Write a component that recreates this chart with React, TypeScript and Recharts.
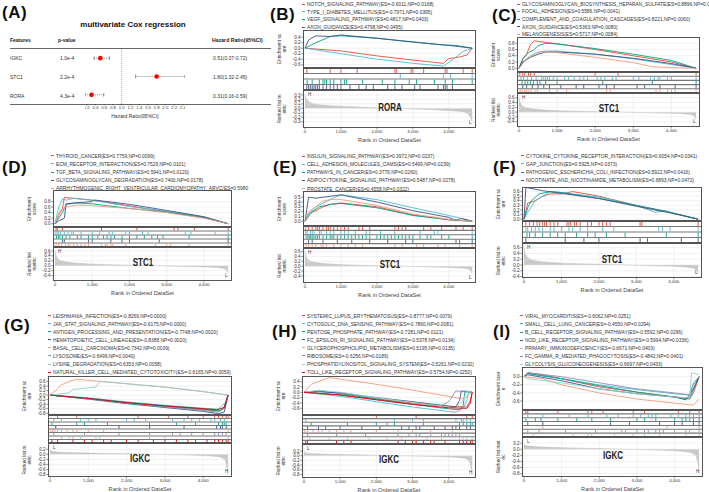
import React from 'react';
import {
  LineChart,
  Line,
  XAxis,
  YAxis,
  CartesianGrid,
  ScatterChart,
  Scatter,
  AreaChart,
  Area,
  ReferenceLine,
} from 'recharts';

const FONT = '"Liberation Sans", Arial, Helvetica, sans-serif';
const NPG = ['#E64B35', '#4DBBD5', '#00A087', '#3C5488', '#F39B7F', '#8491B4', '#91D1C2', '#DC0000'];

// ---------- (A) multivariate Cox ----------
const coxFeatures = ['IGKC', 'STC1', 'RORA'];
const coxP = ['1.0e-4', '2.2e-4', '4.3e-4'];
const coxHR = [0.51, 1.8, 0.31];
const coxLow = [0.37, 1.32, 0.16];
const coxHigh = [0.72, 2.45, 0.59];
const coxTicks = [0.2, 0.4, 0.6, 0.8, 1.0, 1.2, 1.4, 1.6, 1.8, 2.0, 2.2, 2.4];

// ---------- ranked list metrics (rank, value) ----------
const roraMetric = [[0, 0.3], [50, 0.2], [150, 0.13], [400, 0.08], [1000, 0.045], [2000, 0.015], [3000, -0.015], [4000, -0.05], [4400, -0.08], [4550, -0.14], [4650, -0.3]];
const stc1Metric = [[0, 0.62], [30, 0.4], [100, 0.25], [300, 0.15], [700, 0.09], [1500, 0.04], [2500, 0.01], [3500, -0.03], [4200, -0.06], [4500, -0.1], [4600, -0.17], [4650, -0.3]];
const igkcMetric = [[0, 0.16], [50, 0.12], [300, 0.08], [1000, 0.05], [2000, 0.02], [3000, -0.01], [4000, -0.05], [4400, -0.1], [4550, -0.2], [4620, -0.5], [4650, -0.8]];

// ---------- (B) RORA ----------
const bNames = [
  'NOTCH_SIGNALING_PATHWAY(ES=-0.6011,NP=0.0168)',
  'TYPE_I_DIABETES_MELLITUS(ES=-0.7971,NP=0.0395)',
  'VEGF_SIGNALING_PATHWAY(ES=0.4817,NP=0.0403)',
  'AXON_GUIDANCE(ES=0.4798,NP=0.0495)',
];
const bCurves = [
  [[0, 0], [1000, -0.1], [2000, -0.28], [3000, -0.43], [3850, -0.55], [4000, -0.38], [4300, -0.32], [4500, -0.25], [4650, 0]],
  [[0, 0], [1000, -0.2], [2000, -0.4], [3000, -0.55], [3850, -0.65], [4100, -0.42], [4400, -0.12], [4650, 0]],
  [[0, 0], [150, 0.1], [300, 0.2], [600, 0.36], [700, 0.43], [1000, 0.45], [2000, 0.36], [3000, 0.23], [3800, 0.12], [4200, 0.1], [4650, 0]],
  [[0, 0], [100, 0.3], [300, 0.45], [700, 0.42], [1000, 0.48], [2000, 0.36], [3000, 0.22], [4000, 0.1], [4650, 0]],
];
const bHits = [
  [50, 700, 1000, 1450, 2500, 2550, 2950, 3000, 3300, 3900, 3950, 4400, 4650],
  [2650, 3850, 4050, 4650],
  [60, 200, 400, 500, 550, 600, 700, 800, 1000, 1100, 1150, 1600, 2150, 2500, 2900, 3100, 3600, 3900, 4100, 4650],
  [50, 100, 150, 200, 250, 300, 350, 400, 500, 600, 700, 800, 900, 1000, 1250, 1500, 1700, 1900, 2300, 2500, 2700, 3050, 3200, 3700, 3850, 3900, 3950, 4100],
];

// ---------- (C) STC1 ----------
const cNames = [
  'GLYCOSAMINOGLYCAN_BIOSYNTHESIS_HEPARAN_SULFATE(ES=0.8896,NP=0.0020)',
  'FOCAL_ADHESION(ES=0.5586,NP=0.0041)',
  'COMPLEMENT_AND_COAGULATION_CASCADES(ES=0.8221,NP=0.0060)',
  'AXON_GUIDANCE(ES=0.5363,NP=0.0080)',
  'MELANOGENESIS(ES=0.5717,NP=0.0084)',
];
const cCurves = [
  [[0, 0], [100, 0.3], [200, 0.45], [300, 0.75], [400, 0.88], [500, 0.86], [1000, 0.78], [2000, 0.6], [3000, 0.4], [4000, 0.2], [4650, 0]],
  [[0, 0], [150, 0.25], [300, 0.4], [500, 0.52], [700, 0.55], [1000, 0.55], [2000, 0.45], [3000, 0.3], [4000, 0.12], [4650, 0]],
  [[0, 0], [100, 0.3], [250, 0.5], [400, 0.6], [500, 0.72], [700, 0.8], [1000, 0.78], [2000, 0.63], [3000, 0.45], [4000, 0.25], [4650, 0]],
  [[0, 0], [100, 0.2], [300, 0.35], [500, 0.45], [700, 0.52], [1000, 0.52], [2000, 0.45], [3000, 0.32], [4000, 0.15], [4650, 0]],
  [[0, 0], [200, 0.3], [400, 0.45], [600, 0.54], [1000, 0.5], [2000, 0.35], [3000, 0.18], [3500, 0.05], [4000, 0.02], [4650, 0]],
];
const cHits = [
  [20, 100, 150, 250, 300, 400, 2000, 2600, 4650],
  [50, 120, 220, 330, 450, 600, 650, 700, 750, 800, 900, 1000, 1200, 1300, 1450, 1600, 1700, 1800, 2050, 2150, 2250, 2450, 2550, 3000, 3150, 3450, 3550, 3650, 3700, 3900, 4000, 4650],
  [80, 160, 230, 300, 380, 480, 550, 700, 1000, 2200, 3500, 4650],
  [100, 200, 350, 500, 650, 800, 1100, 1500, 1700, 2100, 2300, 2500, 3100, 3300, 3700, 4100, 4650],
  [30, 80, 150, 200, 260, 320, 420, 480, 800, 1000, 1250, 2300, 2400, 3600, 3700, 3900, 4000, 4100, 4650],
];

// ---------- (D) STC1 ----------
const dNames = [
  'THYROID_CANCER(ES=0.7759,NP=0.0099)',
  'ECM_RECEPTOR_INTERACTION(ES=0.7529,NP=0.0101)',
  'TGF_BETA_SIGNALING_PATHWAY(ES=0.5941,NP=0.0120)',
  'GLYCOSAMINOGLYCAN_DEGRADATION(ES=0.7400,NP=0.0178)',
  'ARRHYTHMOGENIC_RIGHT_VENTRICULAR_CARDIOMYOPATHY_ARVC(ES=0.5980',
];
const dCurves = [
  [[0, 0], [100, 0.3], [200, 0.55], [250, 0.95], [500, 0.92], [1000, 0.85], [2000, 0.65], [3000, 0.42], [4000, 0.22], [4650, 0]],
  [[0, 0], [80, 0.5], [150, 0.75], [200, 0.9], [300, 0.85], [500, 0.92], [1000, 0.85], [2000, 0.62], [3000, 0.45], [4000, 0.25], [4650, 0]],
  [[0, 0], [100, 0.2], [200, 0.4], [250, 0.55], [300, 0.7], [600, 0.75], [1000, 0.72], [2000, 0.55], [3000, 0.42], [4000, 0.22], [4650, 0]],
  [[0, 0], [100, 0.1], [250, 0.2], [300, 0.72], [500, 0.75], [1000, 0.8], [1050, 0.86], [2000, 0.7], [3000, 0.48], [4000, 0.25], [4650, 0]],
  [[0, 0], [80, 0.3], [150, 0.5], [300, 0.6], [600, 0.68], [1000, 0.65], [2000, 0.55], [3000, 0.4], [4000, 0.2], [4650, 0]],
];
const dHits = [
  [30, 60, 200, 1250, 2200, 3200, 3300, 3750, 4650],
  [20, 60, 100, 150, 250, 350, 450, 500, 700, 1000, 1200, 1450, 1550, 1900, 2000, 2350, 2500, 3500, 3650, 4300, 4650],
  [40, 90, 130, 200, 300, 400, 600, 700, 900, 1000, 1150, 1300, 1400, 1500, 1600, 1800, 2000, 2200, 2400, 2600, 2750, 2900, 3600, 4650],
  [200, 250, 900, 1000, 1500, 1800, 2000, 2800, 4650],
  [30, 100, 180, 280, 350, 400, 500, 600, 700, 800, 900, 1250, 1350, 1400, 1500, 1550, 1900, 2700, 3000, 3100, 3600, 4650],
];

// ---------- (E) STC1 ----------
const eNames = [
  'INSULIN_SIGNALING_PATHWAY(ES=0.3972,NP=0.0237)',
  'CELL_ADHESION_MOLECULES_CAMS(ES=0.5499,NP=0.0239)',
  'PATHWAYS_IN_CANCER(ES=0.3779,NP=0.0260)',
  'ADIPOCYTOKINE_SIGNALING_PATHWAY(ES=0.5487,NP=0.0278)',
  'PROSTATE_CANCER(ES=0.4558,NP=0.0322)',
];
const eCurves = [
  [[0, 0], [100, 0.15], [300, 0.22], [500, 0.3], [700, 0.35], [1000, 0.38], [2000, 0.3], [3000, 0.13], [4000, 0.03], [4650, 0]],
  [[0, 0], [100, 0.15], [300, 0.3], [700, 0.45], [1000, 0.55], [2000, 0.45], [3000, 0.28], [4000, 0.12], [4650, 0]],
  [[0, 0], [100, 0.1], [200, 0.2], [400, 0.3], [700, 0.35], [1000, 0.37], [2000, 0.28], [3000, 0.12], [4000, 0.03], [4650, 0]],
  [[0, 0], [100, 0.5], [300, 0.48], [500, 0.5], [1000, 0.55], [2000, 0.4], [3000, 0.22], [4000, 0.08], [4200, 0.02], [4350, 0.06], [4650, 0]],
  [[0, 0], [100, 0.2], [300, 0.3], [500, 0.42], [700, 0.45], [1000, 0.45], [2000, 0.33], [3000, 0.15], [4000, 0.04], [4650, 0]],
];
const eHits = [
  [20, 100, 200, 300, 350, 400, 500, 600, 650, 700, 800, 900, 1000, 1100, 1200, 1500, 1600, 1800, 2500, 2600, 2700, 2800, 3300, 3500, 3800, 4200, 4400, 4650],
  [20, 60, 150, 200, 250, 400, 450, 600, 700, 800, 1000, 1100, 1200, 1400, 1700, 1800, 2100, 2500, 3200, 3600, 3700, 4650],
  [30, 80, 120, 160, 200, 250, 300, 350, 400, 500, 600, 700, 750, 800, 900, 1000, 1100, 1200, 1300, 1400, 1500, 1600, 1700, 1800, 2000, 2100, 2200, 2300, 2400, 2500, 2600, 2700, 2800, 2900, 3000, 3200, 3400, 3500, 3800, 4000, 4650],
  [100, 200, 500, 900, 1300, 1800, 2300, 2800, 3000, 4200, 4300, 4650],
  [30, 100, 200, 300, 450, 500, 600, 800, 1000, 1200, 1400, 1600, 2500, 2700, 3100, 3300, 3700, 3900, 4300, 4650],
];

// ---------- (F) STC1 ----------
const fNames = [
  'CYTOKINE_CYTOKINE_RECEPTOR_INTERACTION(ES=0.6054,NP=0.0341)',
  'GAP_JUNCTION(ES=0.5925,NP=0.0373)',
  'PATHOGENIC_ESCHERICHIA_COLI_INFECTION(ES=0.5922,NP=0.0416)',
  'NICOTINATE_AND_NICOTINAMIDE_METABOLISM(ES=0.6893,NP=0.0472)',
];
const fCurves = [
  [[0, 0], [100, 0.35], [300, 0.4], [500, 0.5], [700, 0.55], [1000, 0.55], [1300, 0.6], [2000, 0.5], [3000, 0.3], [4000, 0.13], [4650, 0]],
  [[0, 0], [100, 0.15], [300, 0.4], [500, 0.5], [700, 0.6], [1000, 0.58], [2000, 0.48], [3000, 0.3], [3500, 0.15], [3800, 0.18], [4000, 0.12], [4650, 0]],
  [[0, 0], [100, 0.25], [200, 0.4], [400, 0.55], [700, 0.6], [1000, 0.58], [2000, 0.45], [3000, 0.3], [3800, 0.17], [4650, 0]],
  [[0, 0], [50, 0.69], [500, 0.62], [1000, 0.56], [2000, 0.45], [3000, 0.28], [4000, 0.12], [4650, 0]],
];
const fHits = [
  [50, 150, 250, 350, 420, 500, 550, 600, 700, 800, 900, 1150, 1200, 1250, 1350, 1400, 1500, 1700, 1800, 2000, 2100, 2200, 2300, 3100, 3150, 4650],
  [50, 100, 200, 300, 400, 500, 700, 800, 1000, 1200, 1300, 1500, 1700, 2100, 2400, 3600, 3700, 3900, 4650],
  [80, 150, 300, 500, 700, 900, 1100, 1400, 1700, 1900, 2200, 2700, 3800, 4650],
  [50, 1100, 1600, 2000, 3100, 3300, 4200, 4650],
];

// ---------- (G) IGKC ----------
const gNames = [
  'LEISHMANIA_INFECTION(ES=-0.8269,NP=0.0000)',
  'JAK_STAT_SIGNALING_PATHWAY(ES=-0.6175,NP=0.0000)',
  'ANTIGEN_PROCESSING_AND_PRESENTATION(ES=-0.7748,NP=0.0020)',
  'HEMATOPOIETIC_CELL_LINEAGE(ES=-0.8388,NP=0.0020)',
  'BASAL_CELL_CARCINOMA(ES=0.7342,NP=0.0039)',
  'LYSOSOME(ES=-0.6499,NP=0.0040)',
  'LYSINE_DEGRADATION(ES=0.6353,NP=0.0058)',
  'NATURAL_KILLER_CELL_MEDIATED_CYTOTOXICITY(ES=-0.6165,NP=0.0059)',
];
const gCurves = [
  [[0, 0], [1000, -0.15], [2000, -0.35], [3000, -0.5], [4000, -0.65], [4400, -0.7], [4550, -0.6], [4650, 0]],
  [[0, 0], [1000, -0.12], [2000, -0.3], [3000, -0.45], [4000, -0.58], [4400, -0.62], [4500, -0.45], [4600, -0.3], [4650, 0]],
  [[0, 0], [1000, -0.15], [2000, -0.33], [3000, -0.48], [4000, -0.62], [4450, -0.7], [4550, -0.5], [4650, 0]],
  [[0, 0], [1000, -0.18], [2000, -0.38], [3000, -0.55], [4000, -0.72], [4400, -0.82], [4550, -0.75], [4650, 0]],
  [[0, 0], [150, 0.2], [300, 0.45], [500, 0.6], [700, 0.7], [1000, 0.65], [2000, 0.5], [3000, 0.35], [4000, 0.15], [4650, 0]],
  [[0, 0], [1000, -0.17], [2000, -0.35], [3000, -0.52], [4000, -0.68], [4400, -0.75], [4550, -0.55], [4650, 0]],
  [[0, 0], [500, 0.1], [600, 0.25], [800, 0.28], [1200, 0.35], [1300, 0.6], [2000, 0.5], [3000, 0.35], [4000, 0.15], [4650, 0]],
  [[0, 0], [1000, -0.15], [2000, -0.33], [3000, -0.48], [4000, -0.6], [4350, -0.65], [4550, -0.55], [4650, 0]],
];
const gHits = [
  [200, 700, 2300, 3100, 3600, 4000, 4300, 4400, 4500, 4600, 4650],
  [100, 300, 800, 1000, 1200, 2000, 2200, 2500, 3200, 3500, 3700, 3900, 4200, 4300, 4450, 4550],
  [50, 700, 900, 1500, 2600, 3300, 3800, 4400, 4500, 4550, 4600],
  [150, 1800, 2600, 3500, 4350, 4450, 4500, 4600],
  [20, 70, 130, 200, 300, 450, 600, 700, 1000, 1400, 4650],
  [100, 900, 1800, 2600, 3200, 3400, 3700, 4000, 4300, 4400, 4500, 4600],
  [300, 500, 600, 800, 1200, 1300, 2600, 3000, 4650],
  [50, 200, 600, 900, 1100, 1400, 1600, 2000, 2300, 2700, 3000, 3300, 3600, 3800, 4100, 4300, 4400, 4500, 4600, 4650],
];

// ---------- (H) IGKC ----------
const hNames = [
  'SYSTEMIC_LUPUS_ERYTHEMATOSUS(ES=-0.8777,NP=0.0079)',
  'CYTOSOLIC_DNA_SENSING_PATHWAY(ES=-0.7860,NP=0.0081)',
  'PENTOSE_PHOSPHATE_PATHWAY(ES=-0.7281,NP=0.0121)',
  'FC_EPSILON_RI_SIGNALING_PATHWAY(ES=-0.5378,NP=0.0134)',
  'GLYCEROPHOSPHOLIPID_METABOLISM(ES=0.5195,NP=0.0135)',
  'RIBOSOME(ES=-0.6256,NP=0.0189)',
  'PHOSPHATIDYLINOSITOL_SIGNALING_SYSTEM(ES=-0.5261,NP=0.0232)',
  'TOLL_LIKE_RECEPTOR_SIGNALING_PATHWAY(ES=-0.5754,NP=0.0250)',
];
const hCurves = [
  [[0, 0], [1000, -0.1], [2000, -0.25], [3000, -0.4], [4000, -0.52], [4500, -0.55], [4600, -0.3], [4650, 0]],
  [[0, 0], [1000, -0.15], [2000, -0.35], [3000, -0.55], [4000, -0.72], [4200, -0.75], [4400, -0.6], [4500, -0.3], [4550, 0.05], [4650, 0]],
  [[0, 0], [400, 0.05], [1000, -0.05], [2000, -0.25], [3000, -0.45], [4000, -0.62], [4300, -0.65], [4400, -0.5], [4450, 0.05], [4650, 0]],
  [[0, 0], [400, 0.02], [1000, -0.02], [2000, -0.2], [3000, -0.35], [4000, -0.52], [4200, -0.55], [4300, -0.3], [4350, 0.05], [4650, 0]],
  [[0, 0], [200, 0.3], [700, 0.55], [2000, 0.3], [3000, 0.08], [4000, -0.15], [4400, -0.25], [4650, 0]],
  [[0, 0], [1000, -0.1], [2000, -0.28], [3000, -0.45], [3800, -0.5], [4000, -0.35], [4200, 0.05], [4650, 0]],
  [[0, 0], [400, 0.08], [1000, 0.0], [2000, -0.2], [3000, -0.38], [4000, -0.55], [4200, -0.58], [4400, -0.3], [4500, 0.05], [4650, 0]],
  [[0, 0], [1000, -0.1], [2000, -0.28], [3000, -0.45], [4000, -0.58], [4500, -0.6], [4600, -0.4], [4650, 0]],
];
const hHits = [
  [2000, 3100, 4500, 4650],
  [50, 2500, 3000, 3300, 4200, 4350, 4400, 4500, 4600],
  [200, 1200, 2000, 2300, 2500, 3300, 4300, 4400, 4500, 4600, 4650],
  [100, 400, 600, 1000, 1600, 2100, 2700, 2900, 3100, 3200, 3600, 3900, 4100, 4200, 4300, 4500, 4600],
  [20, 100, 250, 400, 500, 700, 900, 1100, 1300, 2000, 2600, 3000, 3500, 4100],
  [100, 900, 1700, 2600, 2900, 3100, 3200, 3500, 3800, 3900, 4000, 4100, 4200, 4300],
  [150, 700, 1200, 1800, 2300, 2700, 3400, 3800, 4300, 4400, 4500, 4650],
  [50, 100, 900, 1100, 1300, 2600, 2800, 3000, 3100, 3300, 3500, 3600, 3900, 4300, 4400, 4500, 4600, 4650],
];

// ---------- (I) IGKC ----------
const iNames = [
  'VIRAL_MYOCARDITIS(ES=-0.6062,NP=0.0251)',
  'SMALL_CELL_LUNG_CANCER(ES=-0.4550,NP=0.0294)',
  'B_CELL_RECEPTOR_SIGNALING_PATHWAY(ES=-0.5592,NP=0.0296)',
  'NOD_LIKE_RECEPTOR_SIGNALING_PATHWAY(ES=-0.5994,NP=0.0336)',
  'PRIMARY_IMMUNODEFICIENCY(ES=-0.6671,NP=0.0403)',
  'FC_GAMMA_R_MEDIATED_PHAGOCYTOSIS(ES=-0.4842,NP=0.0401)',
  'GLYCOLYSIS_GLUCONEOGENESIS(ES=-0.6697,NP=0.0433)',
];
const iCurves = [
  [[0, 0], [100, 0.1], [500, 0.05], [1000, -0.05], [2000, -0.25], [3000, -0.38], [4000, -0.5], [4400, -0.55], [4500, -0.4], [4650, 0]],
  [[0, 0], [100, 0.08], [1000, -0.05], [2000, -0.2], [3000, -0.32], [4000, -0.42], [4400, -0.45], [4500, -0.2], [4650, 0]],
  [[0, 0], [100, 0.08], [1000, -0.05], [2000, -0.22], [3000, -0.38], [4000, -0.5], [4400, -0.53], [4550, -0.2], [4650, 0]],
  [[0, 0], [100, 0.05], [1000, -0.1], [2000, -0.3], [3000, -0.42], [4000, -0.5], [4300, -0.57], [4500, -0.3], [4650, 0]],
  [[0, 0], [500, -0.05], [1000, -0.2], [2000, -0.4], [3000, -0.55], [4000, -0.65], [4500, -0.7], [4650, -0.55]],
  [[0, 0], [100, 0.1], [1000, 0.0], [2000, -0.15], [3000, -0.3], [4000, -0.4], [4400, -0.45], [4500, -0.15], [4650, 0]],
  [[0, 0], [100, -0.05], [1000, -0.15], [2000, -0.3], [3000, -0.42], [4000, -0.5], [4400, -0.52], [4450, 0.1], [4650, 0.05]],
];
const iHits = [
  [50, 100, 900, 1700, 1800, 2100, 2900, 3200, 4100, 4400, 4650],
  [100, 500, 1200, 1700, 2200, 2500, 2900, 3100, 3300, 3400, 3500, 3900, 4100, 4300, 4400, 4500, 4650],
  [50, 300, 450, 900, 1400, 1800, 2300, 3000, 3200, 3500, 4000, 4200, 4300, 4400, 4500, 4650],
  [100, 500, 2300, 2800, 3600, 4000, 4200, 4500, 4650],
  [500, 3800, 4650],
  [100, 400, 1100, 1900, 2600, 2700, 3000, 3200, 3300, 3500, 3600, 3700, 4000, 4300, 4400, 4650],
  [250, 1300, 1700, 1800, 2400, 2900, 3200, 3600, 4300, 4650],
];

// ---------- axis ticks ----------
const rankTicks = [0, 1000, 2000, 3000, 4000];
const tB = [-0.6, -0.4, -0.2, 0, 0.2, 0.4];
const tPos8 = [0, 0.2, 0.4, 0.6, 0.8];
const tPos5 = [0, 0.1, 0.2, 0.3, 0.4, 0.5];
const tPos6 = [0, 0.1, 0.2, 0.3, 0.4, 0.5, 0.6];
const tG = [-0.8, -0.6, -0.4, -0.2, 0, 0.2, 0.4, 0.6];
const tH = [-0.6, -0.4, -0.2, 0, 0.2, 0.4];
const tI = [-0.6, -0.4, -0.2, 0];
const rkRora = [-0.3, -0.2, -0.1, 0, 0.1, 0.2, 0.3];
const rkStc1 = [-0.4, -0.2, 0, 0.2, 0.4, 0.6];
const rkIgkc = [-0.8, -0.6, -0.4, -0.2, 0, 0.2];

type Layout = {
  tag: string; tagX: number; tagY: number;
  legX: number; legY: number; legStep: number;
  x0: number; x1: number; esTop: number; esBot: number; hitBot: number; rankBot: number;
  esDomain: [number, number]; esTicks: number[]; rkDomain: [number, number]; rkTicks: number[];
  esTitle: string[]; rkTitle: string[];
};

const layB: Layout = { tag: '(B)', tagX: 270, tagY: 15, legX: 302, legY: 4, legStep: 7.7, x0: 303, x1: 476, esTop: 30, esBot: 68, hitBot: 90, rankBot: 128, esDomain: [-0.72, 0.66], esTicks: tB, rkDomain: [-0.44, 0.41], rkTicks: rkRora, esTitle: ['Enrichment sc', 'ore'], rkTitle: ['Ranked list m', 'etric'] };
const layC: Layout = { tag: '(C)', tagX: 492, tagY: 16, legX: 517, legY: 4, legStep: 7.6, x0: 517, x1: 700, esTop: 37, esBot: 72, hitBot: 93, rankBot: 127, esDomain: [-0.12, 1.0], esTicks: tPos8, rkDomain: [-0.62, 0.8], rkTicks: rkStc1, esTitle: ['Enrichment', 'score'], rkTitle: ['Ranked list', 'metric'] };
const layD: Layout = { tag: '(D)', tagX: 2, tagY: 168, legX: 51, legY: 155.7, legStep: 8.2, x0: 53, x1: 232, esTop: 190, esBot: 227, hitBot: 247, rankBot: 281, esDomain: [-0.12, 1.22], esTicks: tPos8, rkDomain: [-0.62, 0.76], rkTicks: rkStc1, esTitle: ['Enrichment', 'score'], rkTitle: ['Ranked list', 'metric'] };
const layE: Layout = { tag: '(E)', tagX: 273, tagY: 168, legX: 302, legY: 156, legStep: 8.2, x0: 303, x1: 476, esTop: 191, esBot: 226, hitBot: 248, rankBot: 283, esDomain: [-0.1, 0.63], esTicks: tPos5, rkDomain: [-0.69, 0.75], rkTicks: rkStc1, esTitle: ['Enrichment', 'score'], rkTitle: ['Ranked list', 'metric'] };
const layF: Layout = { tag: '(F)', tagX: 493, tagY: 168, legX: 521, legY: 155.7, legStep: 8.2, x0: 522, x1: 702, esTop: 187, esBot: 221, hitBot: 243, rankBot: 278, esDomain: [-0.04, 0.7], esTicks: tPos6, rkDomain: [-0.45, 0.76], rkTicks: rkStc1, esTitle: ['Enrichment sc', 'ore'], rkTitle: ['Ranked list m', 'etric'] };
const layG: Layout = { tag: '(G)', tagX: 4, tagY: 326, legX: 48, legY: 315.7, legStep: 8.05, x0: 48, x1: 232, esTop: 376, esBot: 415, hitBot: 443, rankBot: 477, esDomain: [-0.88, 0.84], esTicks: tG, rkDomain: [-0.9, 0.45], rkTicks: rkIgkc, esTitle: ['Enrichment sc', 'ore'], rkTitle: ['Ranked list m', 'etric'] };
const layH: Layout = { tag: '(H)', tagX: 272, tagY: 332, legX: 302, legY: 315.7, legStep: 8.05, x0: 302, x1: 476, esTop: 376, esBot: 415, hitBot: 444, rankBot: 478, esDomain: [-0.85, 0.61], esTicks: tH, rkDomain: [-0.95, 0.5], rkTicks: rkIgkc, esTitle: ['Enrichment sc', 'ore'], rkTitle: ['Ranked list m', 'etric'] };
const layI: Layout = { tag: '(I)', tagX: 493, tagY: 332, legX: 520, legY: 315.7, legStep: 8.15, x0: 522, x1: 703, esTop: 367, esBot: 410, hitBot: 437, rankBot: 477, esDomain: [-0.82, 0.24], esTicks: tI, rkDomain: [-0.91, 0.4], rkTicks: rkIgkc, esTitle: ['Enrichment scor', 'e'], rkTitle: ['Ranked list met', 'ric'] };

const X_DOMAIN: [number, number] = [0, 4700];
const YW = 14;

const Txt = ({ x, y, size, bold, children, center, sx = 1, color = '#222', ls = 0 }: any) => (
  <div
    style={{
      position: 'absolute',
      left: x,
      top: y - size * 0.6,
      fontSize: size,
      lineHeight: `${size * 1.2}px`,
      fontWeight: bold ? 700 : 400,
      whiteSpace: 'nowrap',
      letterSpacing: ls,
      color,
      transform: `${center ? 'translateX(-50%) ' : ''}scaleX(${sx})`,
      transformOrigin: center ? 'center center' : 'left center',
    }}
  >
    {children}
  </div>
);

const VTitle = ({ cx, cy, lines }: { cx: number; cy: number; lines: string[] }) => (
  <div
    style={{
      position: 'absolute',
      left: cx - 30,
      top: cy - 6,
      width: 60,
      height: 12,
      fontSize: 4.8,
      lineHeight: '5.4px',
      textAlign: 'center',
      color: '#333',
      transform: 'rotate(-90deg)',
    }}
  >
    {lines.map((l, i) => (
      <div key={i}>{l}</div>
    ))}
  </div>
);

const boxStyle = (left: number, top: number, w: number, h: number): React.CSSProperties => ({
  position: 'absolute',
  left,
  top,
  width: w,
  height: h,
  border: '0.8px solid #555',
  boxSizing: 'border-box',
  pointerEvents: 'none',
});

const fmt1 = (v: number) => v.toFixed(1);

// y tick: grid line from the scale, with its label and tick mark left of the plot
const YLab = ({ viewBox, tickValue }: any) =>
  viewBox ? (
    <g>
      <line x1={viewBox.x - 1.8} x2={viewBox.x} y1={viewBox.y} y2={viewBox.y} stroke="#333" strokeWidth={0.5} />
      <text x={viewBox.x - 2.4} y={viewBox.y} dy={1.6} textAnchor="end" fontSize={4.6} fill="#333" fontFamily={FONT}>
        {fmt1(tickValue)}
      </text>
    </g>
  ) : null;

const yTicks = (ticks: number[]) =>
  ticks.map((t) => (
    <ReferenceLine key={`yt${t}`} y={t} stroke="#e4e4e4" strokeWidth={0.5} label={<YLab tickValue={t} />} />
  ));

function Gsea({ L, names, curves, hits, metric, gene, negative }: any) {
  const w = L.x1 - L.x0;
  const esH = L.esBot - L.esTop;
  const hitH = L.hitBot - L.esBot;
  const rkH = L.rankBot - L.hitBot;
  const n = hits.length;
  const tickLen = (hitH / n) * 0.8;
  const metricData = metric.map(([x, y]: number[]) => ({ x, y }));
  const rows = Array.from({ length: n + 1 }, (_, k) => k);
  return (
    <>
      <Txt x={L.tagX} y={L.tagY} size={17} bold color="#111" ls={0.5}>{L.tag}</Txt>
      {names.map((nm: string, i: number) => (
        <React.Fragment key={nm}>
          <div style={{ position: 'absolute', left: L.legX, top: L.legY + i * L.legStep - 0.5, width: 3, height: 1, background: NPG[i] }} />
          <Txt x={L.legX + 5} y={L.legY + i * L.legStep} size={5.3} sx={0.92} color="#333">{nm}</Txt>
        </React.Fragment>
      ))}

      <div style={{ position: 'absolute', left: L.x0 - YW, top: L.esTop }}>
        <LineChart width={w + YW} height={esH} margin={{ top: 0, right: 0, bottom: 0, left: 0 }}>
          <CartesianGrid stroke="#e4e4e4" strokeWidth={0.5} horizontal={false} />
          <XAxis type="number" dataKey="x" domain={X_DOMAIN} ticks={rankTicks} height={0} tick={false} axisLine={false} tickLine={false} padding={{ left: 2, right: 2 }} />
          <YAxis type="number" domain={L.esDomain} width={YW} tick={false} axisLine={false} tickLine={false} />
          {yTicks(L.esTicks)}
          {curves.map((c: number[][], i: number) => (
            <Line key={i} data={c.map(([x, y]) => ({ x, y }))} dataKey="y" type="linear" stroke={NPG[i]} strokeWidth={0.9} dot={false} isAnimationActive={false} />
          ))}
        </LineChart>
      </div>
      <div style={boxStyle(L.x0, L.esTop, w, esH)} />

      <div style={{ position: 'absolute', left: L.x0, top: L.esBot }}>
        <ScatterChart width={w} height={hitH} margin={{ top: 0, right: 0, bottom: 0, left: 0 }}>
          <XAxis type="number" dataKey="x" domain={X_DOMAIN} height={0} tick={false} axisLine={false} tickLine={false} padding={{ left: 2, right: 2 }} />
          <YAxis type="number" dataKey="y" domain={[0, n]} reversed hide />
          {rows.map((k) => (
            <ReferenceLine key={k} y={k} stroke="#777" strokeWidth={1.1} />
          ))}
          {hits.map((h: number[], i: number) => (
            <Scatter
              key={i}
              data={h.map((x) => ({ x, y: i + 0.5 }))}
              isAnimationActive={false}
              shape={(p: any) => (
                <line x1={p.cx} x2={p.cx} y1={p.cy - tickLen / 2} y2={p.cy + tickLen / 2} stroke={NPG[i]} strokeWidth={0.9} />
              )}
            />
          ))}
        </ScatterChart>
      </div>
      <div style={boxStyle(L.x0, L.esBot, w, hitH)} />

      <div style={{ position: 'absolute', left: L.x0 - YW, top: L.hitBot }}>
        <AreaChart width={w + YW} height={rkH + 8} data={metricData} margin={{ top: 0, right: 0, bottom: 0, left: 0 }}>
          <CartesianGrid stroke="#e4e4e4" strokeWidth={0.5} horizontal={false} />
          <XAxis type="number" dataKey="x" domain={X_DOMAIN} ticks={rankTicks} height={8} interval={0} padding={{ left: 2, right: 2 }} axisLine={false} tickSize={1.5} tickMargin={0.5} tickLine={{ stroke: '#333', strokeWidth: 0.5 }} tick={{ fontSize: 4.4, fill: '#333' }} tickFormatter={(v: number) => v.toLocaleString('en-US')} />
          <YAxis type="number" domain={L.rkDomain} width={YW} tick={false} axisLine={false} tickLine={false} />
          {yTicks(L.rkTicks)}
          <Area dataKey="y" type="monotone" baseValue={0} stroke="#bdbdbd" strokeWidth={0.5} fill="#c9c9c9" fillOpacity={1} isAnimationActive={false} />
        </AreaChart>
      </div>
      <div style={boxStyle(L.x0, L.hitBot, w, rkH)} />

      <Txt x={L.x0 + 5} y={L.hitBot + 5} size={4.5} color="#333">{negative ? 'L' : 'H'}</Txt>
      <Txt x={L.x1 - 7} y={L.rankBot - 5} size={4.5} color="#333">{negative ? 'H' : 'L'}</Txt>
      <Txt x={(L.x0 + L.x1) / 2} y={(L.hitBot + L.rankBot) / 2 - 1} size={10} bold center sx={0.8} color="#222">{gene}</Txt>
      <Txt x={(L.x0 + L.x1) / 2} y={L.rankBot + 12} size={5.6} center color="#444">Rank in Ordered DataSet</Txt>

      <VTitle cx={L.x0 - 20} cy={(L.esTop + L.esBot) / 2} lines={L.esTitle} />
      <VTitle cx={L.x0 - 20} cy={(L.hitBot + L.rankBot) / 2} lines={L.rkTitle} />
    </>
  );
}

function CoxForest() {
  const rowY = [58, 77, 96];
  return (
    <>
      <Txt x={2} y={13} size={17} bold color="#111" ls={0.5}>(A)</Txt>
      <Txt x={133} y={25} size={8} bold center color="#111">multivariate Cox regression</Txt>
      <Txt x={10} y={40} size={5} bold color="#222">Features</Txt>
      <Txt x={58} y={40} size={5} bold color="#222">p-value</Txt>
      <Txt x={212} y={40} size={5.2} bold color="#222">Hazard Ratio(95%CI)</Txt>
      <div style={{ position: 'absolute', left: 10, top: 48, width: 261, height: 1.2, background: '#666' }} />
      <div style={{ position: 'absolute', left: 10, top: 103.5, width: 261, height: 1.2, background: '#666' }} />
      {coxFeatures.map((f, i) => (
        <React.Fragment key={f}>
          <Txt x={10} y={rowY[i]} size={5} color="#333">{f}</Txt>
          <Txt x={60} y={rowY[i]} size={5} color="#333">{coxP[i]}</Txt>
          <Txt x={213} y={rowY[i]} size={5} color="#333">{`${coxHR[i].toFixed(2)}(${coxLow[i].toFixed(2)}-${coxHigh[i].toFixed(2)})`}</Txt>
        </React.Fragment>
      ))}
      <div style={{ position: 'absolute', left: 85, top: 48.5 }}>
        <ScatterChart width={100} height={64} margin={{ top: 0, right: 0, bottom: 0, left: 0 }}>
          <XAxis type="number" dataKey="x" domain={[0.2, 2.45]} ticks={coxTicks} interval={0} height={9} axisLine={false} tickSize={1.5} tickMargin={0.5} tickLine={{ stroke: '#333', strokeWidth: 0.5 }} tick={{ fontSize: 4.3, fill: '#333' }} tickFormatter={fmt1} />
          <YAxis type="number" dataKey="y" domain={[0, 3]} reversed hide />
          <ReferenceLine x={1} stroke="#888" strokeDasharray="1 1" strokeWidth={0.7} />
          {coxFeatures.map((f, i) => (
            <Scatter
              key={f}
              data={[{ x: coxLow[i], y: i + 0.5 }, { x: coxHigh[i], y: i + 0.5 }]}
              line={{ stroke: '#444', strokeWidth: 0.6, strokeDasharray: '1 1' }}
              isAnimationActive={false}
              shape={(p: any) => <line x1={p.cx} x2={p.cx} y1={p.cy - 1.8} y2={p.cy + 1.8} stroke="#444" strokeWidth={0.6} />}
            />
          ))}
          <Scatter
            data={coxHR.map((x, i) => ({ x, y: i + 0.5 }))}
            isAnimationActive={false}
            shape={(p: any) => <circle cx={p.cx} cy={p.cy} r={2.3} fill="#FF0000" />}
          />
        </ScatterChart>
      </div>
      <Txt x={135} y={115.5} size={5} center color="#333">Hazard Ratio(95%CI)</Txt>
    </>
  );
}

export default function App() {
  return (
    <div
      style={{
        position: 'absolute',
        left: 0,
        top: 0,
        width: 709,
        height: 492,
        overflow: 'hidden',
        background: '#fff',
        fontFamily: FONT,
      }}
    >
      <CoxForest />
      <Gsea L={layB} names={bNames} curves={bCurves} hits={bHits} metric={roraMetric} gene="RORA" />
      <Gsea L={layC} names={cNames} curves={cCurves} hits={cHits} metric={stc1Metric} gene="STC1" />
      <Gsea L={layD} names={dNames} curves={dCurves} hits={dHits} metric={stc1Metric} gene="STC1" />
      <Gsea L={layE} names={eNames} curves={eCurves} hits={eHits} metric={stc1Metric} gene="STC1" />
      <Gsea L={layF} names={fNames} curves={fCurves} hits={fHits} metric={stc1Metric} gene="STC1" />
      <Gsea L={layG} names={gNames} curves={gCurves} hits={gHits} metric={igkcMetric} gene="IGKC" negative />
      <Gsea L={layH} names={hNames} curves={hCurves} hits={hHits} metric={igkcMetric} gene="IGKC" negative />
      <Gsea L={layI} names={iNames} curves={iCurves} hits={iHits} metric={igkcMetric} gene="IGKC" negative />
    </div>
  );
}
